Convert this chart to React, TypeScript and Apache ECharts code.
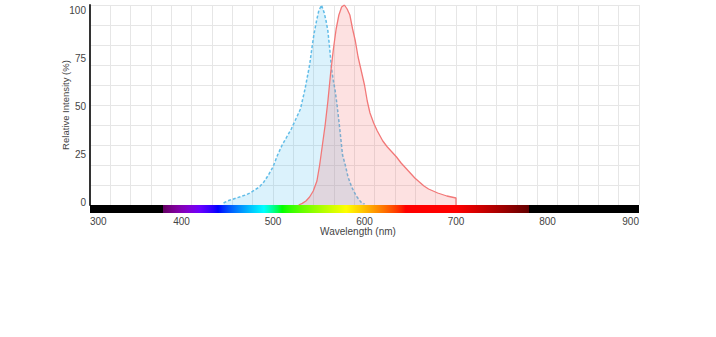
import React, { useEffect, useRef } from "react";
import * as echarts from "echarts";

// Excitation spectrum (dashed blue)
const excitationWavelengths = [446, 450, 460, 470, 475, 480, 485, 490, 495, 500, 505, 510, 515, 520, 525, 530, 535, 540, 543, 545, 548, 550, 553, 556, 558, 560, 562, 564, 566, 568, 570, 573, 576, 579, 582, 586, 591, 596, 600];
const excitationValues = [1, 2, 3.5, 5, 6, 7.5, 9, 11.5, 15, 19, 25, 30, 34, 38, 43, 48, 58, 70, 80, 86, 93, 97, 100, 96, 92, 87, 78, 68, 62, 57, 50, 38, 25, 20, 14, 9, 4.5, 1.5, 0.5];

// Emission spectrum (solid red)
const emissionWavelengths = [528, 532, 536, 540, 544, 548, 551, 554, 557, 560, 563, 566, 569, 572, 575, 578, 581, 584, 587, 590, 593, 596, 600, 603, 606, 610, 614, 620, 625, 630, 635, 640, 645, 650, 655, 660, 665, 670, 675, 680, 690, 700, 700];
const emissionValues = [0, 0.8, 2, 4, 7, 12, 20, 30, 40, 52, 66, 78, 88, 95, 99, 100, 98, 95, 88, 82, 74, 68, 60, 52, 46, 41, 37, 32, 29, 26.5, 24, 21, 18.5, 16, 13.5, 11.5, 9.5, 8, 7, 6, 4.5, 3.5, 0];

const yTickLabels = [0, 25, 50, 75, 100];
const xRange = [300, 900];
const spectrumRange = [380, 780];

function wavelengthColor(w: number): string {
  let r = 0, g = 0, b = 0;
  if (w < 440) { r = -(w - 440) / 60; b = 1; }
  else if (w < 490) { g = (w - 440) / 50; b = 1; }
  else if (w < 510) { g = 1; b = -(w - 510) / 20; }
  else if (w < 580) { r = (w - 510) / 70; g = 1; }
  else if (w < 645) { r = 1; g = -(w - 645) / 65; }
  else { r = 1; }
  let f = 1;
  if (w < 420) f = 0.3 + (0.7 * (w - 380)) / 40;
  else if (w > 700) f = 0.3 + (0.7 * (780 - w)) / 80;
  const c = (v: number) => Math.round(255 * Math.pow(Math.max(0, v * f), 0.8));
  return `rgb(${c(r)},${c(g)},${c(b)})`;
}

export default function App() {
  const ref = useRef<HTMLDivElement>(null);
  useEffect(() => {
    if (!ref.current) return;
    const chart = echarts.init(ref.current, null, { renderer: "svg" });
    const span = xRange[1] - xRange[0];
    const stops: any[] = [
      { offset: 0, color: "#000" },
      { offset: (spectrumRange[0] - xRange[0]) / span, color: "#000" },
    ];
    for (let w = spectrumRange[0]; w <= spectrumRange[1]; w += 5) {
      stops.push({ offset: (w - xRange[0]) / span, color: wavelengthColor(w) });
    }
    stops.push({ offset: (spectrumRange[1] - xRange[0]) / span, color: "#000" });
    stops.push({ offset: 1, color: "#000" });
    const font = "Arial, 'Liberation Sans', sans-serif";
    const gridColor = "#e6e6e6";

    chart.setOption({
      animation: false,
      backgroundColor: "#fff",
      grid: [
        { left: 90, top: 5, width: 549, height: 200 },
        { left: 90, top: 205, width: 549, height: 8 },
      ],
      xAxis: [
        { gridIndex: 0, type: "value", min: xRange[0], max: xRange[1], show: false },
        {
          gridIndex: 0, type: "value", min: 0, max: 27, interval: 1,
          axisLine: { show: false }, axisTick: { show: false }, axisLabel: { show: false },
          splitLine: { show: true, lineStyle: { color: gridColor, width: 1 } },
        },
        {
          gridIndex: 1, type: "value", min: xRange[0], max: xRange[1], interval: 100,
          axisLine: { show: false }, axisTick: { show: false }, splitLine: { show: false },
          axisLabel: {
            margin: 3, color: "#444", fontSize: 10, fontFamily: font,
            alignMinLabel: "left", alignMaxLabel: "right",
          },
          name: "Wavelength (nm)", nameLocation: "middle", nameGap: 13, nameMoveOverlap: false,
          nameTextStyle: { color: "#444", fontSize: 10, fontFamily: font, padding: [0, 13, 0, 0] },
        },
      ],
      yAxis: [
        {
          gridIndex: 0, type: "value", min: 0, max: 100, interval: 10,
          axisLine: { show: true, lineStyle: { color: "#333", width: 2 } },
          axisTick: { show: false }, axisLabel: { show: false },
          splitLine: { show: true, lineStyle: { color: gridColor, width: 1 } },
        },
        {
          gridIndex: 0, type: "value", min: -1.04, max: 102.6, position: "left",
          axisLine: { show: false }, axisTick: { show: false }, splitLine: { show: false },
          axisLabel: { customValues: yTickLabels, margin: 4, color: "#444", fontSize: 10, fontFamily: font },
          name: "Relative Intensity (%)", nameLocation: "middle", nameGap: 20, nameMoveOverlap: false,
          nameTextStyle: { color: "#444", fontSize: 9.5, fontFamily: font },
        },
        { gridIndex: 1, type: "value", min: 0, max: 1, show: false },
      ],
      series: [
        {
          type: "line", xAxisIndex: 0, yAxisIndex: 0, symbol: "none",
          data: excitationWavelengths.map((w, i) => [w, excitationValues[i]]),
          lineStyle: { color: "#62bde8", width: 1.5, type: [3, 2] },
          areaStyle: { color: "rgba(100,200,240,0.33)" },
          z: 2,
        },
        {
          type: "line", xAxisIndex: 0, yAxisIndex: 0, symbol: "none",
          data: emissionWavelengths.map((w, i) => [w, emissionValues[i]]),
          lineStyle: { color: "#f27878", width: 1.3 },
          areaStyle: { color: "rgba(245,100,100,0.28)" },
          z: 3,
        },
        {
          type: "custom", xAxisIndex: 2, yAxisIndex: 2,
          data: [[xRange[0], xRange[1]]],
          renderItem: (params: any, api: any) => {
            const p0 = api.coord([api.value(0), 1]);
            const p1 = api.coord([api.value(1), 0]);
            return {
              type: "rect",
              shape: { x: p0[0], y: p0[1], width: p1[0] - p0[0], height: p1[1] - p0[1] },
              style: { fill: new echarts.graphic.LinearGradient(0, 0, 1, 0, stops) },
            };
          },
          silent: true,
        },
      ],
    });
    return () => chart.dispose();
  }, []);
  return (
    <div
      ref={ref}
      style={{ position: "fixed", left: 0, top: 0, width: 716, height: 337, background: "#fff" }}
    />
  );
}
